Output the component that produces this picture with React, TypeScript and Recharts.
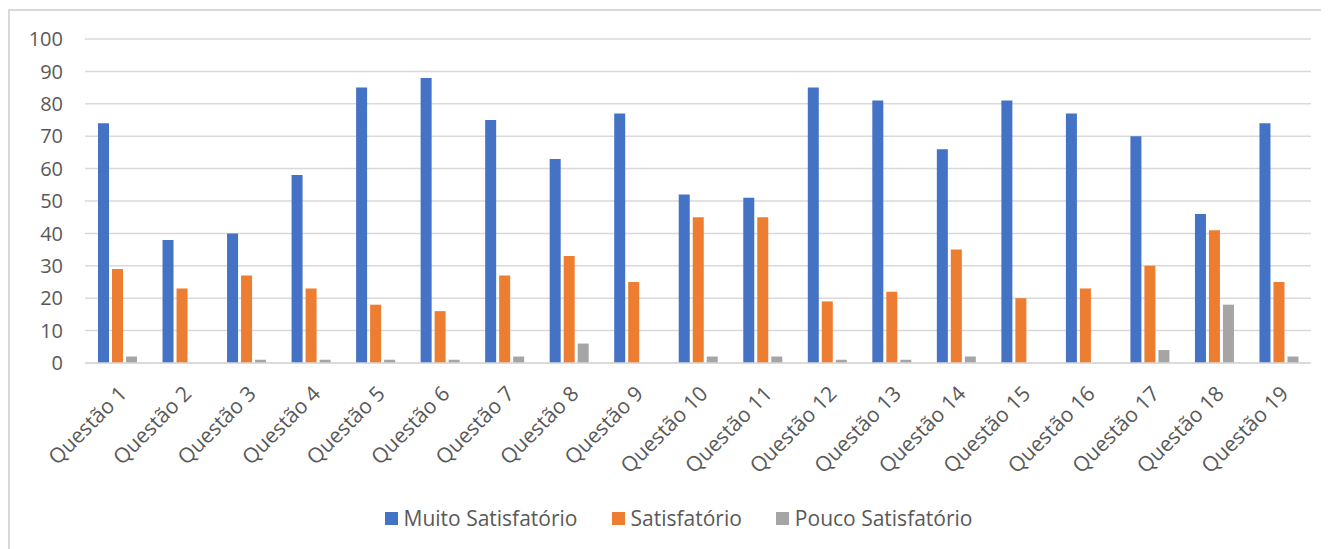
import { BarChart, Bar, XAxis, YAxis, CartesianGrid, Legend } from 'recharts';

const questions = [
  'Questão 1', 'Questão 2', 'Questão 3', 'Questão 4', 'Questão 5', 'Questão 6', 'Questão 7',
  'Questão 8', 'Questão 9', 'Questão 10', 'Questão 11', 'Questão 12', 'Questão 13', 'Questão 14',
  'Questão 15', 'Questão 16', 'Questão 17', 'Questão 18', 'Questão 19',
];
const muitoSatisfatorio = [74, 38, 40, 58, 85, 88, 75, 63, 77, 52, 51, 85, 81, 66, 81, 77, 70, 46, 74];
const satisfatorio = [29, 23, 27, 23, 18, 16, 27, 33, 25, 45, 45, 19, 22, 35, 20, 23, 30, 41, 25];
const poucoSatisfatorio = [2, 0, 1, 1, 1, 1, 2, 6, 0, 2, 2, 1, 1, 2, 0, 0, 4, 18, 2];
const yTicks = [0, 10, 20, 30, 40, 50, 60, 70, 80, 90, 100];

const series = [
  { key: 'muito', name: 'Muito Satisfatório', color: '#4472C4' },
  { key: 'sat', name: 'Satisfatório', color: '#ED7D31' },
  { key: 'pouco', name: 'Pouco Satisfatório', color: '#A5A5A5' },
];

const data = questions.map((q, i) => ({
  q,
  muito: muitoSatisfatorio[i],
  sat: satisfatorio[i],
  pouco: poucoSatisfatorio[i],
}));

const FONT = "'Open Sans', 'Noto Sans', sans-serif";

function QuestionTick({ x, y, payload }: any) {
  const ax = x + 11;
  const ay = y + 24;
  return (
    <text
      x={ax}
      y={ay}
      transform={`rotate(-45, ${ax}, ${ay})`}
      textAnchor="end"
      fill="#595959"
      fontSize={21}
      fontFamily={FONT}
    >
      {payload.value}
    </text>
  );
}

function LegendBox() {
  return (
    <div style={{ display: 'flex', justifyContent: 'center', gap: 34, paddingLeft: 28, fontFamily: FONT, fontSize: 21, color: '#595959', lineHeight: '26px' }}>
      {series.map((s) => (
        <div key={s.key} style={{ display: 'flex', alignItems: 'center', gap: 6 }}>
          <span style={{ width: 13, height: 13, background: s.color, display: 'inline-block' }} />
          {s.name}
        </div>
      ))}
    </div>
  );
}

export default function App() {
  return (
    <div style={{ position: 'relative', width: 1321, height: 541 }}>
      <div
        style={{
          position: 'absolute', left: 0, top: 1, width: 1321, height: 540,
          borderTop: '2px solid #d9d9d9', borderLeft: '2px solid #d9d9d9', boxSizing: 'border-box',
        }}
      />
      <div style={{ position: 'absolute', left: -8, top: -8 }}>
        <BarChart
          width={1329}
          height={549}
          data={data}
          margin={{ top: 39, right: 18, bottom: 0, left: 25 }}
          barSize={11}
          barGap={3}
        >
          <CartesianGrid vertical={false} stroke="#d9d9d9" strokeWidth={1.5} />
          <XAxis
            dataKey="q"
            interval={0}
            height={186}
            tick={<QuestionTick />}
            tickLine={false}
            axisLine={{ stroke: '#d9d9d9', strokeWidth: 1.5 }}
          />
          <YAxis
            domain={[0, 100]}
            ticks={yTicks}
            width={60}
            tickSize={0}
            tickMargin={22}
            axisLine={false}
            tickLine={false}
            tick={{ fill: '#595959', fontSize: 20, fontFamily: FONT }}
          />
          <Legend verticalAlign="middle" wrapperStyle={{ top: 505, left: 0, width: 1329 }} content={<LegendBox />} />
          {series.map((s) => (
            <Bar key={s.key} dataKey={s.key} name={s.name} fill={s.color} isAnimationActive={false} />
          ))}
        </BarChart>
      </div>
    </div>
  );
}
